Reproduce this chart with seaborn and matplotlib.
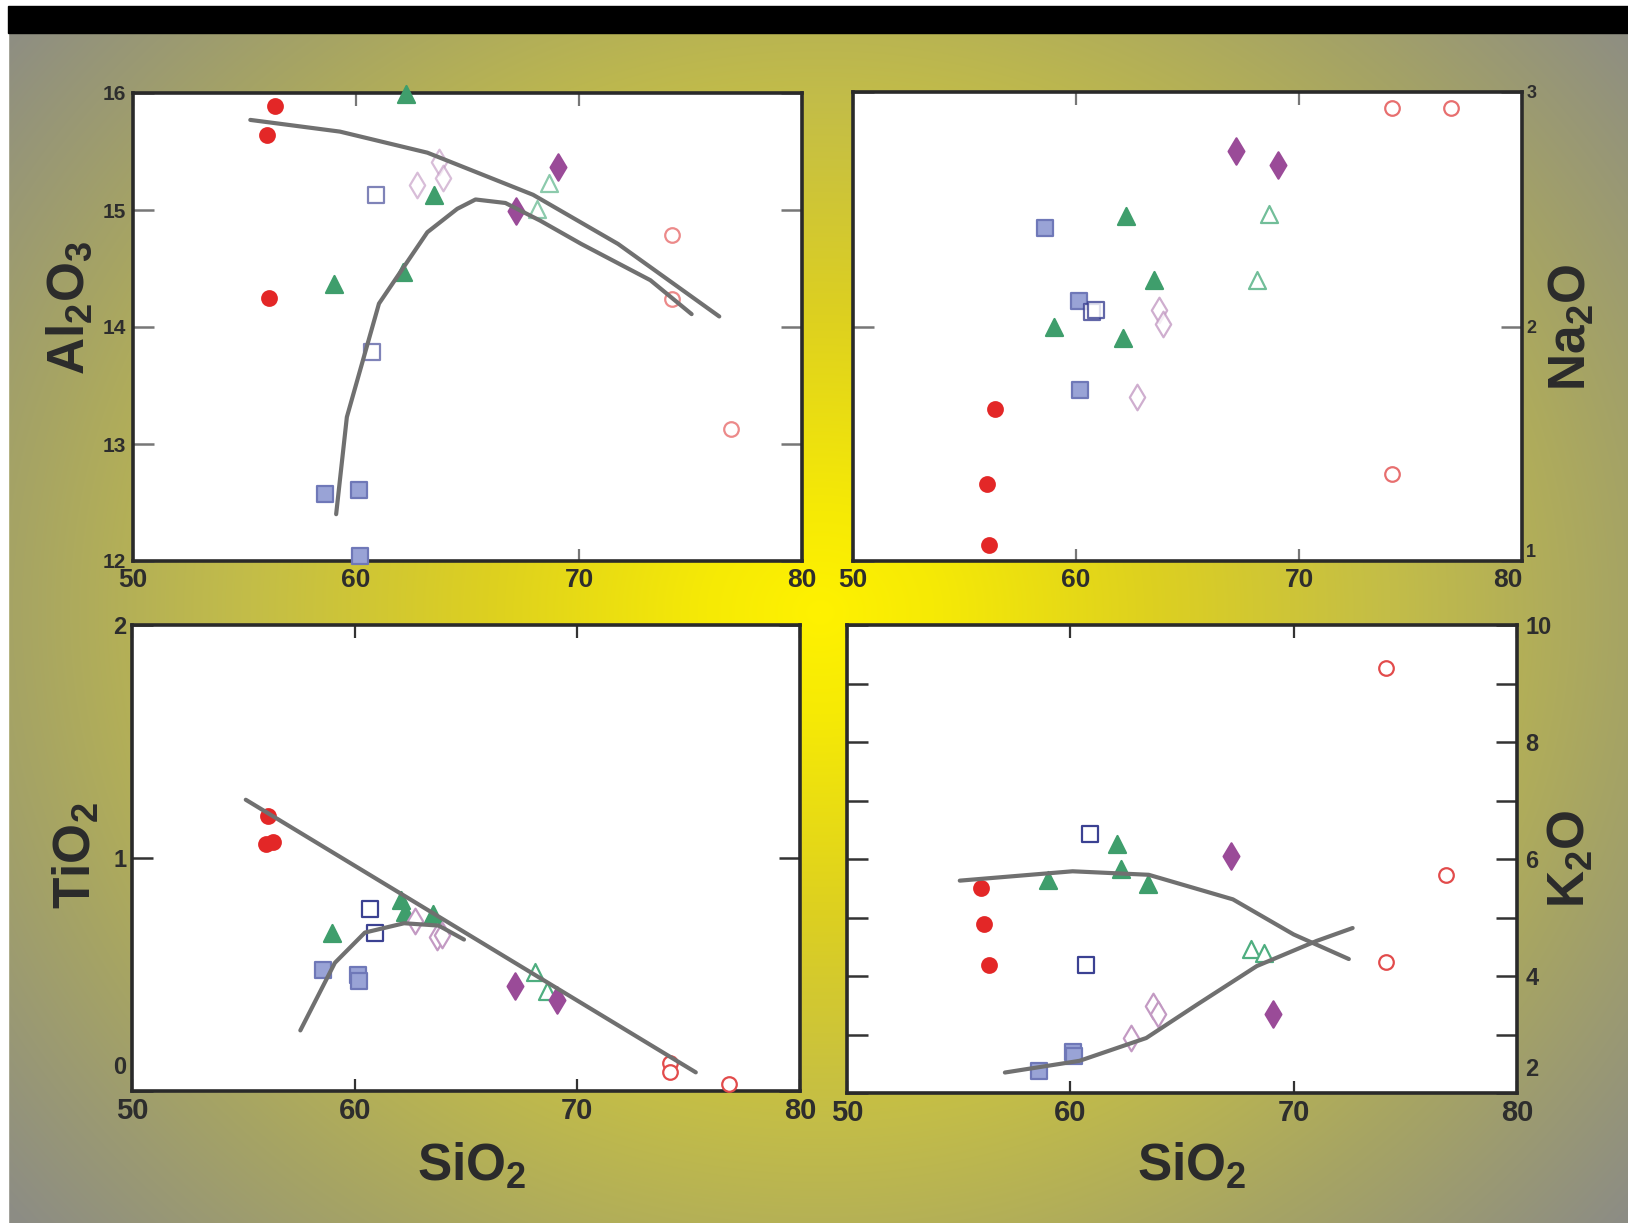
import numpy as np
import pandas as pd
import matplotlib
matplotlib.use("Agg")
import matplotlib.pyplot as plt
from matplotlib import font_manager
from matplotlib.patches import Rectangle
import seaborn as sns

# ---- sample data ----
group = (["red_fill"] * 3 + ["green_fill"] * 4 + ["green_open"] * 2 + ["purple_fill"] * 2
         + ["purple_open"] * 3 + ["blue_fill"] * 3 + ["navy_open"] * 2 + ["red_open"] * 3)
sio2 = [56.35, 56.02, 56.12, 59.0, 62.1, 62.25, 63.5, 68.1, 68.65, 67.18, 69.08,
        62.73, 63.7, 63.92, 58.6, 60.14, 60.18, 60.7, 60.9, 74.15, 74.15, 76.8]
al2o3 = [15.89, 15.64, 14.25, 14.37, 14.47, 15.99, 15.13, 15.01, 15.23, 14.99, 15.37,
         15.21, 15.41, 15.27, 12.57, 12.61, 12.04, 13.79, 15.13, 14.79, 14.24, 13.13]
na2o = [1.65, 1.33, 1.07, 2.0, 1.95, 2.47, 2.20, 2.20, 2.48, 2.75, 2.69,
        1.70, 2.07, 2.01, 2.42, 2.11, 1.73, 2.06, 2.07, 2.93, 1.37, 2.93]
tio2 = [1.07, 1.06, 1.18, 0.68, 0.82, 0.77, 0.76, 0.51, 0.43, 0.45, 0.39,
        0.73, 0.66, 0.67, 0.52, 0.50, 0.47, 0.78, 0.68, 0.12, 0.08, 0.03]
k2o = [4.19, 5.51, 4.89, 5.64, 6.26, 5.83, 5.58, 4.47, 4.40, 6.05, 3.35,
       2.94, 3.49, 3.35, 2.38, 2.70, 2.63, 4.19, 6.43, 9.26, 4.24, 5.73]

# model curves
al_upper_x = [55.26, 59.28, 63.2, 67.94, 71.75, 76.29]
al_upper_y = [15.77, 15.67, 15.49, 15.13, 14.71, 14.09]
al_lower_x = [59.11, 59.59, 61.03, 63.2, 64.54, 65.36, 66.7, 68.25, 70.1, 73.2, 75.05]
al_lower_y = [12.4, 13.23, 14.2, 14.81, 15.01, 15.09, 15.06, 14.91, 14.71, 14.4, 14.11]
ti_line_x = [55.11, 75.32]
ti_line_y = [1.25, 0.08]
ti_curve_x = [57.56, 59.11, 60.46, 62.22, 63.77, 64.91]
ti_curve_y = [0.26, 0.55, 0.68, 0.72, 0.71, 0.65]
k_upper_x = [55.05, 60.1, 63.51, 67.28, 70.0, 72.47]
k_upper_y = [5.63, 5.79, 5.73, 5.31, 4.71, 4.29]
k_lower_x = [57.07, 60.41, 63.4, 65.67, 68.35, 71.03, 72.64]
k_lower_y = [2.35, 2.55, 2.94, 3.51, 4.17, 4.6, 4.82]

df = pd.DataFrame({"group": group, "SiO2": sio2, "Al2O3": al2o3,
                   "Na2O": na2o, "TiO2": tio2, "K2O": k2o})

# marker styles: (marker, face, edge, size)
styles = {
    "red_fill": ("o", "#e32727", "#e32727", 110),
    "green_fill": ("^", "#3f9e6c", "#3f9e6c", 150),
    "green_open": ("^", "white", "#4fae80", 150),
    "purple_fill": ("d", "#9a4b98", "#9a4b98", 180),
    "purple_open": ("d", "white", "#c39ac3", 170),
    "blue_fill": ("s", "#99a3d6", "#6f78b8", 120),
    "navy_open": ("s", "white", "#3b4192", 120),
    "red_open": ("o", "white", "#e24b4b", 110),
}

sns.set_style("ticks")
names = {f.name for f in font_manager.fontManager.ttflist}
tick_font = "Liberation Sans Narrow" if "Liberation Sans Narrow" in names else "Liberation Sans"
plt.rcParams["font.family"] = ["Liberation Sans", "DejaVu Sans"]
plt.rcParams["mathtext.default"] = "regular"

W, H = 1628, 1223
fig = plt.figure(figsize=(W / 100, H / 100), dpi=100)

# ---- background: radial yellow glow ----
bg = fig.add_axes([0, 0, 1, 1], zorder=-10)
yy, xx = np.mgrid[0:H, 0:W]
d = np.sqrt(((xx - 820) / 950.0) ** 2 + ((yy - 612) / 850.0) ** 2)
stops = [0.0, 0.12, 0.35, 0.6, 0.85, 1.1, 1.4]
cols = ["#fff200", "#f6ea05", "#ddd020", "#c3bd48", "#a6a464", "#8d8d84", "#858690"]
rgb = np.array([matplotlib.colors.to_rgb(c) for c in cols])
img = np.dstack([np.interp(d, stops, rgb[:, i]) for i in range(3)])
bg.imshow(img, extent=[0, W, H, 0], aspect="auto", interpolation="bilinear")
bg.add_patch(Rectangle((0, 0), W, 6, color="white"))
bg.add_patch(Rectangle((0, 0), 8, H, color="white"))
bg.add_patch(Rectangle((8, 6), W - 8, 27, color="black"))
bg.set_xlim(0, W)
bg.set_ylim(H, 0)
bg.axis("off")


def panel(box):
    x0, y0, x1, y1 = box
    return fig.add_axes([x0 / W, 1 - y1 / H, (x1 - x0) / W, (y1 - y0) / H])


ax1 = panel((133, 93, 802, 561))
ax2 = panel((853, 92, 1522, 561))
ax3 = panel((132, 625, 800, 1091))
ax4 = panel((847, 625, 1517, 1093))

curves = {
    ax1: [(al_upper_x, al_upper_y), (al_lower_x, al_lower_y)],
    ax2: [],
    ax3: [(ti_line_x, ti_line_y), (ti_curve_x, ti_curve_y)],
    ax4: [(k_upper_x, k_upper_y), (k_lower_x, k_lower_y)],
}
oxide = {ax1: "Al2O3", ax2: "Na2O", ax3: "TiO2", ax4: "K2O"}
fade = {ax1: 0.65, ax2: 0.8, ax3: 1.0, ax4: 1.0}

for ax in [ax1, ax2, ax3, ax4]:
    for g, (m, fc, ec, s) in styles.items():
        sub = df[df["group"] == g]
        a = 1.0 if fc != "white" else fade[ax]
        sns.scatterplot(data=sub, x="SiO2", y=oxide[ax], ax=ax, marker=m, s=s,
                        color=fc, edgecolor=ec, linewidth=1.6, alpha=a,
                        legend=False, zorder=3, clip_on=False)
    for cx, cy in curves[ax]:
        sns.lineplot(x=cx, y=cy, ax=ax, sort=False, estimator=None,
                     color="#707070", linewidth=3.0, zorder=4)
    ax.set_facecolor("white")
    ax.set_xlim(50, 80)
    ax.set_xticks([50, 60, 70, 80])
    ax.set_xlabel("")
    ax.set_ylabel("")
    for sp in ax.spines.values():
        sp.set_linewidth(2.6)
        sp.set_color("#2a2a2a")
        sp.set_visible(True)
    tc = "#777777" if ax in (ax1, ax2) else "#333333"
    ax.tick_params(axis="both", direction="in", top=True, right=True,
                   colors=tc, labelcolor="#2d2d2d")
    ax.tick_params(axis="x", length=9, width=1.6)
    ax.tick_params(axis="y", length=15, width=1.8)

ax1.set_ylim(12, 16)
ax1.set_yticks([12, 13, 14, 15, 16])
ax2.set_ylim(1, 3)
ax2.set_yticks([1, 2, 3])
ax3.set_ylim(0, 2)
ax3.set_yticks([0, 1, 2])
ax3.set_yticklabels(["", "1", "2"])
ax4.set_ylim(2, 10)
ax4.set_yticks(range(2, 11))
ax4.set_yticklabels(["", "", "4", "", "6", "", "8", "", "10"])

ax1.tick_params(axis="x", labelsize=19, pad=5)
ax2.tick_params(axis="x", labelsize=19, pad=5)
ax3.tick_params(axis="x", labelsize=21, pad=4)
ax4.tick_params(axis="x", labelsize=21, pad=4)
ax1.tick_params(axis="y", labelsize=15, pad=5)
ax2.tick_params(axis="y", labelsize=13, pad=3, labelleft=False, labelright=True)
ax3.tick_params(axis="y", labelsize=17, pad=4)
ax4.tick_params(axis="y", labelsize=17, pad=6, labelleft=False, labelright=True)

for ax in [ax1, ax2, ax3, ax4]:
    for lab in ax.get_xticklabels() + ax.get_yticklabels():
        lab.set_fontfamily(tick_font)
        lab.set_fontweight("bold")

# the "80" and "1" at the top-right corner sit side by side in the original
ax2.get_xticklabels()[-1].set_horizontalalignment("right")
ax2.get_yticklabels()[0].set_verticalalignment("bottom")

# bottom labels nudged up off the corner, as in the original
ax3.annotate("0", xy=(0, 0), xycoords="axes fraction", xytext=(-4, 17),
             textcoords="offset points", ha="right", va="center", fontsize=17,
             fontweight="bold", family=tick_font, color="#2d2d2d")
ax4.annotate("2", xy=(1, 0), xycoords="axes fraction", xytext=(6, 17),
             textcoords="offset points", ha="left", va="center", fontsize=17,
             fontweight="bold", family=tick_font, color="#2d2d2d")

lab_kw = dict(fontsize=37, fontweight="bold", color="#2b2b2b")
fig.text(0.043, 0.748, "Al$_2$O$_3$", rotation=90, ha="center", va="center", **lab_kw)
fig.text(0.9656, 0.732, "Na$_2$O", rotation=90, ha="center", va="center", **lab_kw)
fig.text(0.047, 0.300, "TiO$_2$", rotation=90, ha="center", va="center", **lab_kw)
fig.text(0.965, 0.298, "K$_2$O", rotation=90, ha="center", va="center", **lab_kw)
fig.text(0.290, 0.035, "SiO$_2$", ha="center", va="baseline", **lab_kw)
fig.text(0.732, 0.035, "SiO$_2$", ha="center", va="baseline", **lab_kw)

fig.savefig("out.png", dpi=100)
